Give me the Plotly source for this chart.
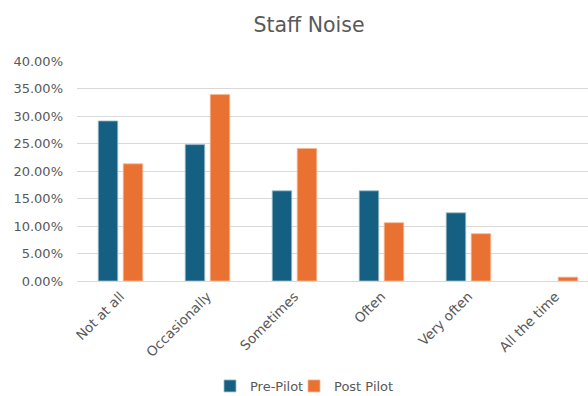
import plotly.graph_objects as go

# Survey responses: how often staff noise was noticed
categories = ["Not at all", "Occasionally", "Sometimes", "Often", "Very often", "All the time"]
pre_pilot = [0.291, 0.248, 0.164, 0.164, 0.124, 0.0]
post_pilot = [0.213, 0.339, 0.241, 0.106, 0.086, 0.007]
series_names = ["Pre-Pilot", "Post Pilot"]

y_ticks = [0.0, 0.05, 0.10, 0.15, 0.20, 0.25, 0.30, 0.35, 0.40]

FONT = "DejaVu Sans"
TEXT_GREY = "#595959"
GRID_GREY = "#d9d9d9"


def outline_widths(values):
    # thin light outline on visible bars only, so empty bars draw nothing
    return [0.8 if v > 0 else 0 for v in values]


fig = go.Figure()
fig.add_trace(go.Bar(
    name=series_names[0], x=categories, y=pre_pilot, legend="legend",
    marker=dict(color="#156082", line=dict(color="#9fbccb", width=outline_widths(pre_pilot))),
))
fig.add_trace(go.Bar(
    name=series_names[1], x=categories, y=post_pilot, legend="legend2",
    marker=dict(color="#E97132", line=dict(color="#f5b894", width=outline_widths(post_pilot))),
))

legend_style = dict(orientation="h", xref="container", yref="container",
                    xanchor="left", y=1 - 386 / 396, yanchor="middle",
                    font=dict(family=FONT, size=13, color=TEXT_GREY),
                    itemwidth=30, bgcolor="rgba(0,0,0,0)")

fig.update_layout(
    width=588, height=396,
    margin=dict(l=77, r=0, t=61, b=115),
    paper_bgcolor="white", plot_bgcolor="white",
    barmode="group", bargap=0.425, bargroupgap=0.22,
    font=dict(family=FONT, color=TEXT_GREY, size=13),
    title=dict(text="Staff Noise", x=309 / 588, xref="container", xanchor="center",
               y=1 - 25 / 396, yref="container", yanchor="middle",
               font=dict(family=FONT, size=20.5, color=TEXT_GREY)),
    legend=dict(legend_style, x=210 / 588),
    legend2=dict(legend_style, x=294 / 588),
    showlegend=True,
)

fig.update_xaxes(
    type="category", range=[-0.5, 5.374], tickangle=-45,
    showgrid=False, showline=False, ticks="", automargin=False,
    ticklabelstandoff=4,
    tickfont=dict(family=FONT, size=13.5, color=TEXT_GREY),
)
fig.update_yaxes(
    range=[0, 0.4], tickvals=y_ticks, tickformat=".2%",
    showgrid=True, gridcolor=GRID_GREY, gridwidth=1,
    zeroline=True, zerolinecolor=GRID_GREY, zerolinewidth=1,
    showline=False, ticks="", ticklabelstandoff=13, automargin=False,
    tickfont=dict(family=FONT, size=13, color=TEXT_GREY),
)

fig.write_html("out.html")
